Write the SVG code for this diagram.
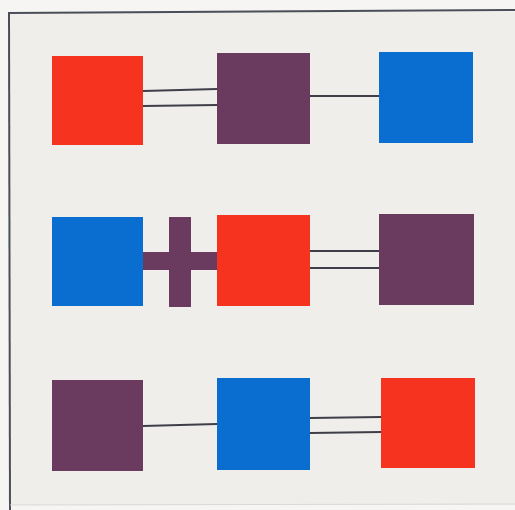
<svg xmlns="http://www.w3.org/2000/svg" width="515" height="510" viewBox="0 0 515 510">
<style>
.red{fill:#F5331F}
.pur{fill:#6A3B5E}
.blu{fill:#0A6DD0}
.ln{stroke:#3E3E48;stroke-width:2;fill:none}
.frame{stroke:#4A4E58;stroke-width:2;fill:none}
</style>
<rect x="0" y="0" width="515" height="510" fill="#F6F5F3"/>
<rect x="9" y="12" width="506" height="493" fill="#EFEEEA"/>
<g id="frame">
<path class="frame" d="M9,13 L515,10"/>
<path class="frame" d="M9,12 L10,510"/>
<path d="M10,505 L515,504" stroke="#D8D8D8" stroke-width="1"/>
</g>
<g id="connectors">
<path class="ln" d="M143,91 L217,89"/>
<path class="ln" d="M143,106 L217,105"/>
<path class="ln" d="M310,96 L379,96"/>
<rect x="143" y="252" width="75" height="18" class="pur"/>
<rect x="169" y="217" width="22" height="90" class="pur"/>
<path class="ln" d="M310,251 L379,251"/>
<path class="ln" d="M310,268 L379,268"/>
<path class="ln" d="M143,426 L217,424"/>
<path class="ln" d="M310,418 L381,417"/>
<path class="ln" d="M310,433 L381,432"/>
</g>
<g id="n1"><rect class="red" x="52" y="56" width="91" height="89"/></g>
<g id="n2"><rect class="pur" x="217" y="53" width="93" height="91"/></g>
<g id="n3"><rect class="blu" x="379" y="52" width="94" height="91"/></g>
<g id="n4"><rect class="blu" x="52" y="217" width="91" height="89"/></g>
<g id="n5"><rect class="red" x="217" y="215" width="93" height="91"/></g>
<g id="n6"><rect class="pur" x="379" y="214" width="95" height="91"/></g>
<g id="n7"><rect class="pur" x="52" y="380" width="91" height="91"/></g>
<g id="n8"><rect class="blu" x="217" y="378" width="93" height="92"/></g>
<g id="n9"><rect class="red" x="381" y="378" width="94" height="90"/></g>
</svg>
